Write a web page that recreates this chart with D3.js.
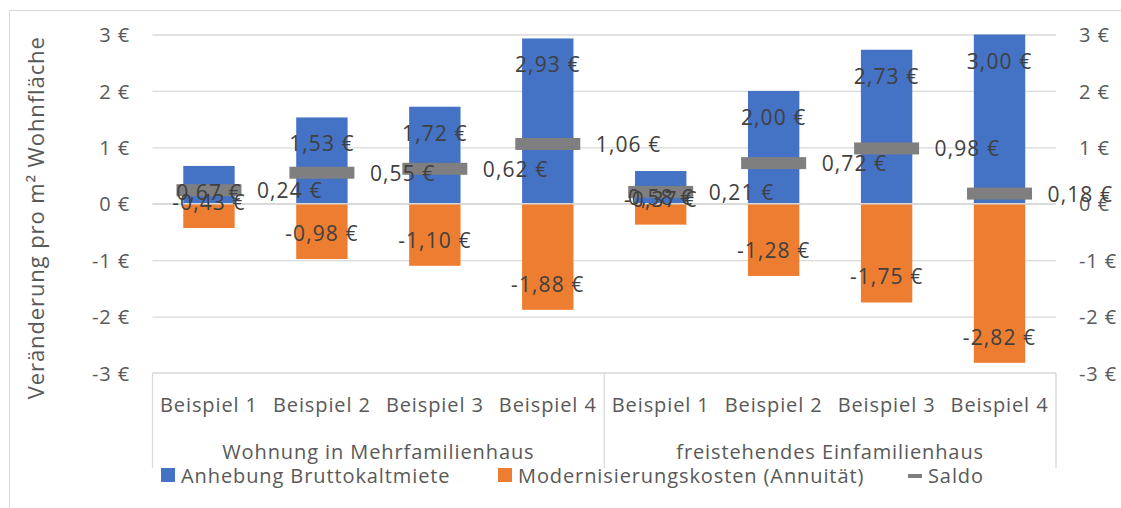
<!DOCTYPE html>
<html>
<head>
<meta charset="utf-8">
<script src="https://cdn.jsdelivr.net/npm/d3@7"></script>
<style>
  body { margin: 0; background: #fff; }
  svg text { font-family: "Open Sans", sans-serif; letter-spacing: 0.9px; }
</style>
</head>
<body>
<div id="chart"></div>
<script>
// data
const categories = ["Beispiel 1", "Beispiel 2", "Beispiel 3", "Beispiel 4",
                    "Beispiel 1", "Beispiel 2", "Beispiel 3", "Beispiel 4"];
const groups = ["Wohnung in Mehrfamilienhaus", "freistehendes Einfamilienhaus"];
const anhebung = [0.67, 1.53, 1.72, 2.93, 0.58, 2.00, 2.73, 3.00];
const modernisierung = [-0.43, -0.98, -1.10, -1.88, -0.37, -1.28, -1.75, -2.82];
const saldo = [0.24, 0.55, 0.62, 1.06, 0.21, 0.72, 0.98, 0.18];
const yTicks = [-3, -2, -1, 0, 1, 2, 3];
const seriesNames = ["Anhebung Bruttokaltmiete", "Modernisierungskosten (Annuität)", "Saldo"];

const width = 1121, height = 508;
const plot = {left: 152.5, right: 1056, top: 34.5, bottom: 373};
const colors = {blue: "#4472C4", orange: "#ED7D31", grey: "#7F7F7F", grid: "#D9D9D9", text: "#595959", label: "#404040"};

const euro = v => d3.format(".2f")(v).replace(".", ",").replace("−", "-") + " €";
const euroTick = v => d3.format("d")(v).replace("−", "-") + " €";

const svg = d3.select("#chart").append("svg")
    .attr("width", width)
    .attr("height", height);

// outer chart border
svg.append("rect")
    .attr("x", 9.5).attr("y", 10.5)
    .attr("width", width + 20).attr("height", height + 20)
    .style("fill", "#fff")
    .style("stroke", colors.grid);

const x = d3.scaleBand()
    .domain(d3.range(categories.length))
    .range([plot.left, plot.right])
    .paddingInner(0.545)
    .paddingOuter(0.2725);

const y = d3.scaleLinear()
    .domain([-3, 3])
    .range([plot.bottom, plot.top]);

// gridlines
svg.append("g")
    .attr("transform", `translate(${plot.left},0)`)
    .call(d3.axisLeft(y).tickValues(yTicks.filter(t => t > -3)).tickSize(-(plot.right - plot.left)).tickFormat(""))
    .call(g => g.select(".domain").remove())
    .call(g => g.selectAll("line").style("stroke", colors.grid).style("stroke-width", 1.3));

// left axis labels
svg.append("g")
    .attr("transform", `translate(130,0)`)
    .call(d3.axisLeft(y).tickValues(yTicks).tickSize(0).tickPadding(0).tickFormat(euroTick))
    .call(g => g.select(".domain").remove())
    .call(g => g.selectAll("text").style("font-size", "20px").style("fill", colors.text).attr("dy", "0.36em"));

// right axis labels
svg.append("g")
    .attr("transform", `translate(1079,0)`)
    .call(d3.axisRight(y).tickValues(yTicks).tickSize(0).tickPadding(0).tickFormat(euroTick))
    .call(g => g.select(".domain").remove())
    .call(g => g.selectAll("text").style("font-size", "20px").style("fill", colors.text).attr("dy", "0.36em"));

// axis title
svg.append("text")
    .attr("transform", `translate(44,${(plot.top + plot.bottom) / 2 + 14}) rotate(-90)`)
    .attr("text-anchor", "middle")
    .style("font-size", "22px")
    .style("fill", colors.text)
    .text("Veränderung pro m² Wohnfläche");

// bars
svg.append("g").selectAll("rect")
    .data(anhebung)
    .join("rect")
    .attr("x", (d, i) => x(i))
    .attr("width", x.bandwidth())
    .attr("y", d => y(d))
    .attr("height", d => y(0) - y(d))
    .style("fill", colors.blue);

svg.append("g").selectAll("rect")
    .data(modernisierung)
    .join("rect")
    .attr("x", (d, i) => x(i))
    .attr("width", x.bandwidth())
    .attr("y", y(0))
    .attr("height", d => y(d) - y(0))
    .style("fill", colors.orange);

// zero line
svg.append("line")
    .attr("x1", plot.left).attr("x2", plot.right)
    .attr("y1", y(0)).attr("y2", y(0))
    .style("stroke", colors.grid).style("stroke-width", 1.3);

// saldo markers
const markerW = 65, markerH = 12;
svg.append("g").selectAll("rect")
    .data(saldo)
    .join("rect")
    .attr("x", (d, i) => x(i) + x.bandwidth() / 2 - markerW / 2)
    .attr("y", d => y(d) - markerH / 2)
    .attr("width", markerW)
    .attr("height", markerH)
    .style("fill", colors.grey);

// data labels
const labelStyle = sel => sel.style("font-size", "21px").style("fill", colors.label).style("letter-spacing", "1.1px");

svg.append("g").selectAll("text")
    .data(anhebung)
    .join("text")
    .attr("x", (d, i) => x(i) + x.bandwidth() / 2)
    .attr("y", d => y(d) + 34)
    .attr("text-anchor", "middle")
    .text(euro)
    .call(labelStyle);

svg.append("g").selectAll("text")
    .data(modernisierung)
    .join("text")
    .attr("x", (d, i) => x(i) + x.bandwidth() / 2)
    .attr("y", d => y(d) - 18)
    .attr("text-anchor", "middle")
    .text(euro)
    .call(labelStyle);

svg.append("g").selectAll("text")
    .data(saldo)
    .join("text")
    .attr("x", (d, i) => x(i) + x.bandwidth() / 2 + 48)
    .attr("y", d => y(d) + 8)
    .text(euro)
    .call(labelStyle);

// category axis (two levels)
const catAxis = svg.append("g");
catAxis.append("line")
    .attr("x1", plot.left).attr("x2", plot.right)
    .attr("y1", plot.bottom).attr("y2", plot.bottom)
    .style("stroke", colors.grid).style("stroke-width", 1.3);

[0, 4, 8].forEach(i => {
    const xp = i < categories.length ? x(i) - x.step() * x.paddingInner() / 2 : plot.right;
    catAxis.append("line")
        .attr("x1", xp).attr("x2", xp)
        .attr("y1", plot.bottom).attr("y2", 468)
        .style("stroke", colors.grid).style("stroke-width", 1.3);
});

catAxis.selectAll("text.cat")
    .data(categories)
    .join("text")
    .attr("class", "cat")
    .attr("x", (d, i) => x(i) + x.bandwidth() / 2)
    .attr("y", 412)
    .attr("text-anchor", "middle")
    .style("font-size", "20px")
    .style("fill", colors.text)
    .text(d => d);

catAxis.selectAll("text.grp")
    .data(groups)
    .join("text")
    .attr("class", "grp")
    .attr("x", (d, i) => (x(i * 4) + x(i * 4 + 3) + x.bandwidth()) / 2)
    .attr("y", 459)
    .attr("text-anchor", "middle")
    .style("font-size", "20px")
    .style("fill", colors.text)
    .text(d => d);

// legend
const legend = svg.append("g");
legend.append("rect").attr("x", 161).attr("y", 468).attr("width", 14).attr("height", 14).style("fill", colors.blue);
legend.append("rect").attr("x", 498).attr("y", 468).attr("width", 14).attr("height", 14).style("fill", colors.orange);
legend.append("rect").attr("x", 908).attr("y", 474).attr("width", 14).attr("height", 4).style("fill", colors.grey);
const legendX = [181, 518, 928];
legend.selectAll("text")
    .data(seriesNames)
    .join("text")
    .attr("x", (d, i) => legendX[i])
    .attr("y", 483)
    .style("font-size", "20px")
    .style("fill", colors.text)
    .text(d => d);
</script>
</body>
</html>
